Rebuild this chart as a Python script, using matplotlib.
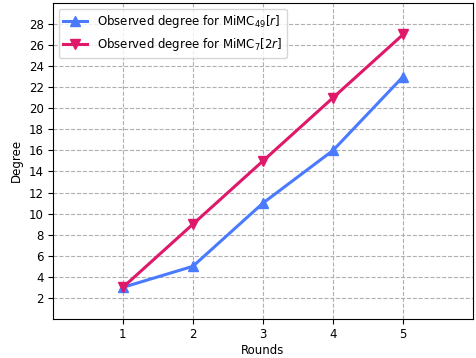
import matplotlib
matplotlib.use('Agg')
import matplotlib.pyplot as plt

rounds = [1, 2, 3, 4, 5]
deg_mimc49 = [3, 5, 11, 16, 23]
deg_mimc7 = [3, 9, 15, 21, 27]

fig = plt.figure(figsize=(4.76, 3.58), dpi=100)
ax = fig.add_axes([0.111, 0.109, 0.883, 0.883])

ax.plot(rounds, deg_mimc49, color='#4a7bff', marker='^', markersize=7, linewidth=2.2,
        label='Observed degree for MiMC$_{49}[r]$')
ax.plot(rounds, deg_mimc7, color='#e0186a', marker='v', markersize=7, linewidth=2.2,
        label='Observed degree for MiMC$_{7}[2r]$')

ax.set_xlim(0, 6)
ax.set_ylim(0, 30)
ax.set_xticks(rounds)
ax.set_yticks(range(2, 29, 2))
ax.tick_params(labelsize=8.5, pad=3)
ax.set_xlabel('Rounds', fontsize=8.5, labelpad=2)
ax.set_ylabel('Degree', fontsize=8.5)
ax.grid(True, linestyle='--', color='#b0b0b0', linewidth=0.8)
ax.legend(loc='upper left', fontsize=8.5)

fig.savefig('out.png', dpi=100)
